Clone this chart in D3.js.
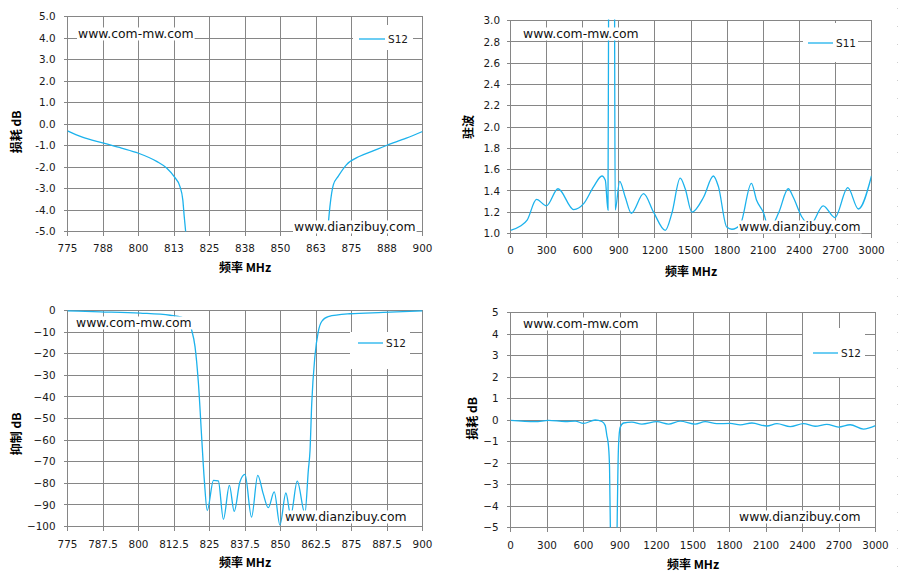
<!DOCTYPE html>
<html>
<head>
<meta charset="utf-8">
<script src="https://cdn.jsdelivr.net/npm/d3@7"></script>
<style>
  body { margin: 0; background: #fff; }
  svg { display: block; }
</style>
</head>
<body>
<div id="chart"></div>
<script>
// ---- data ----
// top left: S12 loss, 775-900 MHz (clipped to -5..5)
var lossNarrowFreq = [775, 780, 787.7, 794, 800, 806.4, 809.9, 812.5, 814.6, 815.6, 816.1, 816.6, 817.2, 818.5,
                      865, 866, 866.6, 867.4, 868.6, 870.3, 873.2, 877.9, 882.6, 887.3, 894.3, 900];
var lossNarrowDb   = [-0.32, -0.6, -0.89, -1.12, -1.36, -1.74, -2.05, -2.44, -2.91, -3.53, -4.3, -5.0, -6, -9,
                      -9, -6, -5.0, -3.84, -2.83, -2.44, -1.9, -1.5, -1.25, -1.0, -0.66, -0.35];

// top right: S11 VSWR, 0-3000 MHz
var vswrFreq = [0, 83, 138, 216, 299, 395, 525, 608, 691, 760, 788, 810, 816, 840, 864, 870,
                907, 954, 1004, 1106, 1189, 1286, 1341, 1410, 1452, 1507, 1604, 1686, 1728, 1797, 1840,
                1908, 2002, 2046, 2101, 2150, 2230, 2308, 2350, 2419, 2490, 2599, 2696, 2803, 2891, 3000];
var vswrVal  = [1.03, 1.07, 1.125, 1.32, 1.26, 1.42, 1.225, 1.28, 1.44, 1.54, 1.5, 1.22, 3.5, 10, 3.5, 1.22,
                1.49, 1.34, 1.19, 1.375, 1.2, 1.03, 1.19, 1.52, 1.42, 1.2, 1.34, 1.54, 1.44, 1.06, 1.04,
                1.08, 1.47, 1.31, 1.2, 1.04, 1.2, 1.42, 1.34, 1.16, 1.08, 1.26, 1.15, 1.43, 1.23, 1.54];

// bottom left: S12 rejection, 775-900 MHz
var rejFreq = [775, 786.5, 800.6, 811.1, 815.2, 817.6, 818.7, 819.9, 821.1, 822.3, 823.2, 824.2,
               826.4, 828.1, 829.9, 832.0, 833.7, 835.7, 837.5, 839.8, 842.0, 843.9, 845.7, 847.8,
               849.8, 851.9, 853.6, 855.9, 858.6, 859.8, 860.4, 861, 862.1, 863.3, 864.5, 866.8,
               874.4, 886.2, 900];
var rejDb   = [-0.2, -0.6, -1.2, -2.2, -3.1, -5.1, -9, -16.7, -33.7, -60, -79, -92.6,
               -78.6, -78.9, -96.7, -81, -93, -79.4, -75.9, -95.7, -76.3, -84.8, -91.3, -84,
               -99.3, -84.5, -94.9, -79, -94, -74, -64.7, -43, -21.4, -9.8, -5.1, -2.8,
               -1.5, -0.9, -0.2];

// bottom right: S12 loss, 0-3000 MHz (clipped to -5..5)
var lossWideFreq = [0, 203, 312, 450, 532, 600, 696, 751, 778, 792, 805, 814, 822, 840, 875, 882, 888,
                    901, 929, 998, 1080, 1203, 1299, 1395, 1518, 1600, 1696, 1806, 1888, 1984, 2107,
                    2190, 2299, 2408, 2504, 2600, 2696, 2792, 2901, 3000];
var lossWideDb   = [-0.02, -0.08, -0.02, -0.07, -0.05, -0.16, 0.0, -0.07, -0.25, -0.72, -1.19, -2.2, -5.5, -20, -5.5, -2.65, -1.19,
                    -0.35, -0.14, -0.1, -0.19, -0.08, -0.19, -0.05, -0.19, -0.08, -0.17, -0.16, -0.23, -0.14, -0.28,
                    -0.17, -0.31, -0.17, -0.29, -0.2, -0.33, -0.22, -0.42, -0.26];

// ticks
var narrowTicks = [775, 787.5, 800, 812.5, 825, 837.5, 850, 862.5, 875, 887.5, 900];
var narrowLabelsShort = ["775", "788", "800", "813", "825", "838", "850", "863", "875", "888", "900"];
var narrowLabelsLong  = ["775", "787.5", "800", "812.5", "825", "837.5", "850", "862.5", "875", "887.5", "900"];
var wideTicks = [0, 300, 600, 900, 1200, 1500, 1800, 2100, 2400, 2700, 3000];
var lossTicks = [-5, -4, -3, -2, -1, 0, 1, 2, 3, 4, 5];
var vswrTicks = [1.0, 1.2, 1.4, 1.6, 1.8, 2.0, 2.2, 2.4, 2.6, 2.8, 3.0];
var rejTicks = [-100, -90, -80, -70, -60, -50, -40, -30, -20, -10, 0];

var width = 899, height = 583;
var lineColor = "#1cb2ec", gridColor = "#868686";
var tickFont = "DejaVu Sans", cjkFont = "Noto Sans CJK SC";

var svg = d3.select("#chart").append("svg")
  .attr("width", width)
  .attr("height", height);

// faint page edge on the right
svg.append("line")
  .attr("x1", 897.5).attr("x2", 897.5).attr("y1", 8).attr("y2", height)
  .attr("stroke", "#cfcfcf").attr("stroke-dasharray", "1,17");

function whiteText(g, x, y, str) {
  var t = g.append("text")
    .attr("x", x).attr("y", y).attr("dy", "0.36em")
    .attr("font-family", tickFont).attr("font-size", 12.4)
    .attr("fill", "#111")
    .text(str);
  var b = t.node().getBBox();
  g.insert("rect", function() { return t.node(); })
    .attr("x", b.x - 1).attr("y", b.y + 1).attr("width", b.width + 2).attr("height", b.height - 2)
    .attr("fill", "#fff");
}

function panel(o, idx) {
  var x = d3.scaleLinear().domain(o.xDomain).range([o.left, o.right]);
  var y = d3.scaleLinear().domain(o.yDomain).range([o.bottom, o.top]);
  var g = svg.append("g");

  // grid + tick marks
  g.selectAll(".vg").data(o.xTicks).enter().append("line")
    .attr("x1", function(d) { return x(d); }).attr("x2", function(d) { return x(d); })
    .attr("y1", o.top).attr("y2", o.bottom + 4)
    .attr("stroke", gridColor).attr("shape-rendering", "crispEdges");
  g.selectAll(".hg").data(o.yTicks).enter().append("line")
    .attr("x1", o.left - 4).attr("x2", o.right)
    .attr("y1", function(d) { return y(d); }).attr("y2", function(d) { return y(d); })
    .attr("stroke", gridColor).attr("shape-rendering", "crispEdges");

  // tick labels
  g.selectAll(".xl").data(o.xTicks).enter().append("text")
    .attr("x", function(d) { return x(d); })
    .attr("y", o.bottom + o.xLabelGap).attr("dy", "0.36em")
    .attr("text-anchor", "middle")
    .attr("font-family", tickFont).attr("font-size", 10.4).attr("fill", "#1a1a1a")
    .text(function(d, i) { return o.xLabels[i]; });
  g.selectAll(".yl").data(o.yTicks).enter().append("text")
    .attr("x", o.left - o.yLabelGap)
    .attr("y", function(d) { return y(d); }).attr("dy", "0.36em")
    .attr("text-anchor", "end")
    .attr("font-family", tickFont).attr("font-size", 10.4).attr("fill", "#1a1a1a")
    .text(o.yFmt);

  // axis titles
  g.append("text")
    .attr("x", o.xTitle[0]).attr("y", o.xTitle[1]).attr("dy", "0.36em")
    .attr("text-anchor", "middle")
    .attr("font-family", cjkFont).attr("font-weight", "bold").attr("font-size", 12)
    .text("频率 MHz");
  g.append("text")
    .attr("transform", "translate(" + o.yTitle[0] + "," + o.yTitle[1] + ") rotate(-90)")
    .attr("dy", "0.36em")
    .attr("text-anchor", "middle")
    .attr("font-family", cjkFont).attr("font-weight", "bold").attr("font-size", 12)
    .text(o.yTitleText);

  // series
  svg.append("clipPath").attr("id", "clip" + idx)
    .append("rect")
    .attr("x", o.left).attr("y", o.top - 1)
    .attr("width", o.right - o.left).attr("height", o.bottom - o.top + 1);

  var line = d3.line()
    .x(function(d) { return x(d[0]); })
    .y(function(d) { return y(d[1]); })
    .curve(d3.curveMonotoneX);

  g.append("path")
    .datum(d3.zip(o.freq, o.vals))
    .attr("clip-path", "url(#clip" + idx + ")")
    .attr("fill", "none")
    .attr("stroke", lineColor)
    .attr("stroke-width", 1.3)
    .attr("d", line);

  // legend
  var lg = o.legend;
  g.append("rect")
    .attr("x", lg.box[0]).attr("y", lg.box[1]).attr("width", lg.box[2]).attr("height", lg.box[3])
    .attr("fill", "#fff");
  g.append("line")
    .attr("x1", lg.line[0]).attr("x2", lg.line[1]).attr("y1", lg.line[2]).attr("y2", lg.line[2])
    .attr("stroke", lineColor).attr("stroke-width", 1.3);
  g.append("text")
    .attr("x", lg.line[1] + 3).attr("y", lg.line[2]).attr("dy", "0.36em")
    .attr("font-family", tickFont).attr("font-size", 10.5).attr("fill", "#1a1a1a")
    .text(o.name);

  // watermarks
  whiteText(g, o.mark1[0], o.mark1[1], "www.com-mw.com");
  whiteText(g, o.mark2[0], o.mark2[1], "www.dianzibuy.com");
}

var fmt1 = function(d) { return d.toFixed(1); };
var fmt0 = function(d) { return d3.format("d")(d); };

panel({
  left: 67.5, right: 422.5, top: 16.5, bottom: 231.5,
  xDomain: [775, 900], yDomain: [-5, 5],
  xTicks: narrowTicks, xLabels: narrowLabelsShort, yTicks: lossTicks, yFmt: fmt1,
  xLabelGap: 16.5, yLabelGap: 12,
  freq: lossNarrowFreq, vals: lossNarrowDb, name: "S12",
  xTitle: [245, 268], yTitle: [17, 132], yTitleText: "损耗 dB",
  legend: { box: [353, 25, 60, 25], line: [359, 385, 39] },
  mark1: [78, 34], mark2: [294, 227]
}, 1);

panel({
  left: 510.5, right: 871.5, top: 20.5, bottom: 233.5,
  xDomain: [0, 3000], yDomain: [1, 3],
  xTicks: wideTicks, xLabels: wideTicks.map(String), yTicks: vswrTicks, yFmt: fmt1,
  xLabelGap: 17, yLabelGap: 10.5,
  freq: vswrFreq, vals: vswrVal, name: "S11",
  xTitle: [691, 272], yTitle: [469, 127], yTitleText: "驻波",
  legend: { box: [803, 23, 55, 39], line: [808, 833, 43] },
  mark1: [523, 34], mark2: [739, 227]
}, 2);

panel({
  left: 67.5, right: 422.5, top: 310.5, bottom: 526.5,
  xDomain: [775, 900], yDomain: [-100, 0],
  xTicks: narrowTicks, xLabels: narrowLabelsLong, yTicks: rejTicks, yFmt: fmt0,
  xLabelGap: 18, yLabelGap: 12,
  freq: rejFreq, vals: rejDb, name: "S12",
  xTitle: [245, 563], yTitle: [17, 434], yTitleText: "抑制 dB",
  legend: { box: [350, 332, 60, 37], line: [358, 383, 343] },
  mark1: [76, 323], mark2: [285, 517]
}, 3);

panel({
  left: 510.5, right: 875.5, top: 312.5, bottom: 527.5,
  xDomain: [0, 3000], yDomain: [-5, 5],
  xTicks: wideTicks, xLabels: wideTicks.map(String), yTicks: lossTicks, yFmt: fmt0,
  xLabelGap: 18, yLabelGap: 12,
  freq: lossWideFreq, vals: lossWideDb, name: "S12",
  xTitle: [693, 565], yTitle: [473, 418.5], yTitleText: "损耗 dB",
  legend: { box: [803, 328, 62, 49], line: [813, 838, 353] },
  mark1: [523, 324], mark2: [739, 517]
}, 4);
</script>
</body>
</html>
